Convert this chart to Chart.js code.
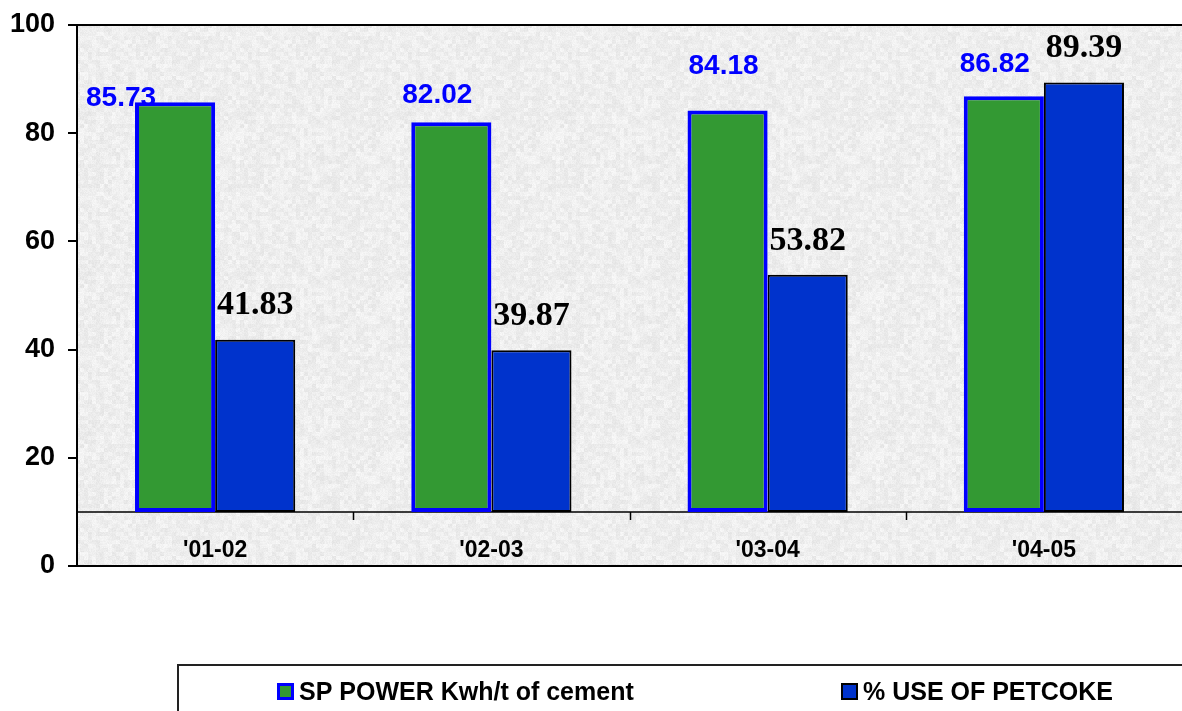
<!DOCTYPE html>
<html>
<head>
<meta charset="utf-8">
<script src="https://cdn.jsdelivr.net/npm/chart.js@4/dist/chart.umd.min.js"></script>
<style>
    html, body { margin: 0; padding: 0; background: #ffffff; }
    #wrap { width: 1182px; height: 711px; }
</style>
</head>
<body>
<div id="wrap"><canvas id="chart" width="1182" height="711"></canvas></div>
<script>
// ============ DATA ============
const categories = ["'01-02", "'02-03", "'03-04", "'04-05"];
const seriesNames = ['SP POWER Kwh/t of cement', '% USE OF PETCOKE'];
const spPower = [85.73, 82.02, 84.18, 86.82];
const petcokeUse = [41.83, 39.87, 53.82, 89.39];
const yTickValues = [0, 20, 40, 60, 80, 100];
const axisCrossing = 10; // category axis crosses the value axis here

// hand-placed label nudges for the green series (pixels, like the original)
const greenLabelNudge = [[-54, -4], [-14, -27], [-4, -44], [-9, -32]];

const GREEN = '#339933';
const BLUE = '#0033cc';
const PURE_BLUE = '#0000ff';

// ============ UTILITIES ============
function hash(x, y) {
    let n = Math.imul(x, 374761393) + Math.imul(y, 668265263);
    n = Math.imul(n ^ (n >>> 13), 1274126177);
    return ((n ^ (n >>> 16)) >>> 0) / 4294967295;
}

function makeTexture(ctx) {
    const size = 160;
    const c = document.createElement('canvas');
    c.width = size;
    c.height = size;
    const g = c.getContext('2d');
    const img = g.createImageData(size, size);
    for (let y = 0; y < size; y++) {
        for (let x = 0; x < size; x++) {
            const coarse = hash(x >> 2, y >> 2);
            const fine = hash(x, y);
            const v = Math.round(226 + coarse * 14 + fine * 10);
            const i = (y * size + x) * 4;
            img.data[i] = v;
            img.data[i + 1] = v;
            img.data[i + 2] = v;
            img.data[i + 3] = 255;
        }
    }
    g.putImageData(img, 0, 0);
    return ctx.createPattern(c, 'repeat');
}

// ============ PLUGIN ============
const excelLook = {
    id: 'excelLook',
    beforeDraw(chart) {
        const { ctx, chartArea: a } = chart;
        ctx.save();
        ctx.fillStyle = makeTexture(ctx);
        ctx.fillRect(a.left, a.top, a.right - a.left, a.bottom - a.top);
        ctx.restore();
    },
    beforeDatasetsDraw(chart) {
        const { ctx, chartArea: a, scales } = chart;
        const yLine = scales.y.getPixelForValue(axisCrossing);
        ctx.save();
        ctx.strokeStyle = '#000';
        ctx.lineWidth = 1.5;
        ctx.beginPath();
        ctx.moveTo(a.left, yLine);
        ctx.lineTo(a.right, yLine);
        const step = (a.right - a.left) / categories.length;
        for (let i = 1; i < categories.length; i++) {
            const x = Math.round(a.left + step * i) + 0.5;
            ctx.moveTo(x, yLine);
            ctx.lineTo(x, yLine + 8);
        }
        ctx.stroke();
        ctx.restore();
    },
    afterDraw(chart) {
        const { ctx, scales } = chart;
        const x = scales.x;
        const y = scales.y;
        ctx.save();

        // category labels sit between the crossing line and zero
        ctx.fillStyle = '#000';
        ctx.font = 'bold 23px Arial, "Liberation Sans", sans-serif';
        ctx.textAlign = 'center';
        ctx.textBaseline = 'alphabetic';
        categories.forEach((c, i) => {
            ctx.fillText(c, x.getPixelForValue(i), y.getPixelForValue(0) - 9);
        });

        // value labels
        const greenMeta = chart.getDatasetMeta(0);
        const blueMeta = chart.getDatasetMeta(1);
        ctx.textBaseline = 'middle';
        ctx.font = 'bold 28px Arial, "Liberation Sans", sans-serif';
        ctx.fillStyle = PURE_BLUE;
        greenMeta.data.forEach((bar, i) => {
            const [dx, dy] = greenLabelNudge[i];
            ctx.fillText(spPower[i].toFixed(2), bar.x + dx, bar.y + dy);
        });
        ctx.font = 'bold 34px "Liberation Serif", "Times New Roman", serif';
        ctx.fillStyle = '#000';
        blueMeta.data.forEach((bar, i) => {
            ctx.fillText(petcokeUse[i].toFixed(2), bar.x, bar.y - 34);
        });

        // legend box
        const boxTop = 665;
        const boxLeft = 178;
        ctx.strokeStyle = '#222';
        ctx.lineWidth = 2;
        ctx.beginPath();
        ctx.moveTo(boxLeft, chart.height);
        ctx.lineTo(boxLeft, boxTop);
        ctx.lineTo(chart.width, boxTop);
        ctx.stroke();

        const items = [
            { x: 277, fill: GREEN, border: PURE_BLUE, bw: 3 },
            { x: 841, fill: BLUE, border: '#000', bw: 2 }
        ];
        ctx.font = 'bold 25px Arial, "Liberation Sans", sans-serif';
        ctx.textAlign = 'left';
        ctx.textBaseline = 'alphabetic';
        items.forEach((it, i) => {
            const s = 17;
            const sy = 683;
            ctx.fillStyle = it.border;
            ctx.fillRect(it.x, sy, s, s);
            ctx.fillStyle = it.fill;
            ctx.fillRect(it.x + it.bw, sy + it.bw, s - it.bw * 2, s - it.bw * 2);
            ctx.fillStyle = '#000';
            ctx.fillText(seriesNames[i], it.x + s + 5, 700);
        });

        ctx.restore();
    }
};

// ============ CHART ============
const ctx = document.getElementById('chart').getContext('2d');

new Chart(ctx, {
    type: 'bar',
    data: {
        labels: categories,
        datasets: [
            {
                label: seriesNames[0],
                data: spPower,
                base: axisCrossing,
                backgroundColor: GREEN,
                borderColor: PURE_BLUE,
                borderWidth: 4,
                borderSkipped: false
            },
            {
                label: seriesNames[1],
                data: petcokeUse,
                base: axisCrossing,
                backgroundColor: BLUE,
                borderColor: '#000',
                borderWidth: 2,
                borderSkipped: false
            }
        ]
    },
    options: {
        responsive: false,
        animation: false,
        events: [],
        layout: {
            padding: { top: 25, right: 0, bottom: 145, left: 0 }
        },
        plugins: {
            legend: { display: false },
            tooltip: { enabled: false }
        },
        datasets: {
            bar: {
                categoryPercentage: 0.58,
                barPercentage: 1.0
            }
        },
        scales: {
            x: {
                ticks: { display: false },
                grid: { display: true, drawOnChartArea: false, drawTicks: false },
                border: { display: true, color: '#000', width: 2 },
                afterFit(scale) {
                    scale.height = 0;
                    scale.paddingLeft = 0;
                    scale.paddingRight = 0;
                }
            },
            y: {
                min: 0,
                max: 100,
                afterBuildTicks(scale) {
                    scale.ticks = yTickValues.map(v => ({ value: v }));
                },
                ticks: {
                    color: '#000',
                    padding: 13,
                    font: { family: 'Arial, "Liberation Sans", sans-serif', size: 27, weight: 'bold' }
                },
                grid: {
                    color: c => (c.tick && c.tick.value === 100 ? '#000' : 'rgba(0,0,0,0)'),
                    tickColor: '#000',
                    tickLength: 9,
                    lineWidth: 2
                },
                border: { display: true, color: '#000', width: 2 },
                afterFit(scale) {
                    scale.width = 77;
                    scale.paddingTop = 0;
                    scale.paddingBottom = 0;
                }
            }
        }
    },
    plugins: [excelLook]
});
</script>
</body>
</html>
